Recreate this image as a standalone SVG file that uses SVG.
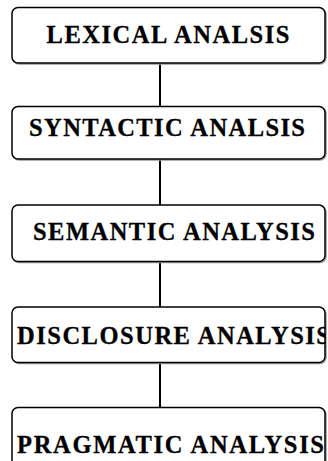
<svg xmlns="http://www.w3.org/2000/svg" width="328" height="461" viewBox="0 0 328 461">
<style>
.box{fill:#fff;stroke:#000;stroke-width:1.5}
.sh{fill:none;stroke:#999;stroke-width:1.5}
.lbl{font-family:"Liberation Serif","Times New Roman",serif;font-weight:bold;font-size:24.5px;fill:#000;stroke:#000;stroke-width:0.3}
.conn{stroke:#000;stroke-width:2;fill:none}
</style>
<defs>
<clipPath id="c4"><rect x="12" y="307" width="313.5" height="56"/></clipPath>
</defs>
<rect width="328" height="461" fill="#fff"/>
<g id="connectors">
<line class="conn" x1="160" y1="63" x2="160" y2="107"/>
<line class="conn" x1="160" y1="159" x2="160" y2="205"/>
<line class="conn" x1="160" y1="262" x2="160" y2="307"/>
<line class="conn" x1="160" y1="363" x2="160" y2="408"/>
</g>
<g id="lexical">
<rect class="sh" x="13" y="8.5" width="313" height="55.5" rx="6"/>
<rect class="box" x="12" y="7.5" width="313" height="55.5" rx="6"/>
<text class="lbl" x="46.5" y="43" textLength="243" lengthAdjust="spacing">LEXICAL ANALSIS</text>
</g>
<g id="syntactic">
<rect class="sh" x="13" y="107.5" width="313" height="52.5" rx="6"/>
<rect class="box" x="12" y="106.5" width="313" height="52.5" rx="6"/>
<text class="lbl" x="29" y="136" textLength="276" lengthAdjust="spacing">SYNTACTIC ANALSIS</text>
</g>
<g id="semantic">
<rect class="sh" x="13" y="206" width="313" height="56.5" rx="6"/>
<rect class="box" x="12" y="205" width="313" height="56.5" rx="6"/>
<text class="lbl" x="33" y="240" textLength="282" lengthAdjust="spacing">SEMANTIC ANALYSIS</text>
</g>
<g id="disclosure">
<rect class="sh" x="13" y="308" width="313" height="55.5" rx="6"/>
<rect class="box" x="12" y="307" width="313" height="55.5" rx="6"/>
<g clip-path="url(#c4)">
<text class="lbl" x="17" y="344" textLength="313" lengthAdjust="spacing">DISCLOSURE ANALYSIS</text>
</g>
</g>
<g id="pragmatic">
<rect class="sh" x="13" y="408.5" width="313" height="60" rx="6"/>
<rect class="box" x="12" y="407.5" width="313" height="60" rx="6"/>
<text class="lbl" x="17" y="453" textLength="307" lengthAdjust="spacing">PRAGMATIC ANALYSIS</text>
</g>
</svg>
